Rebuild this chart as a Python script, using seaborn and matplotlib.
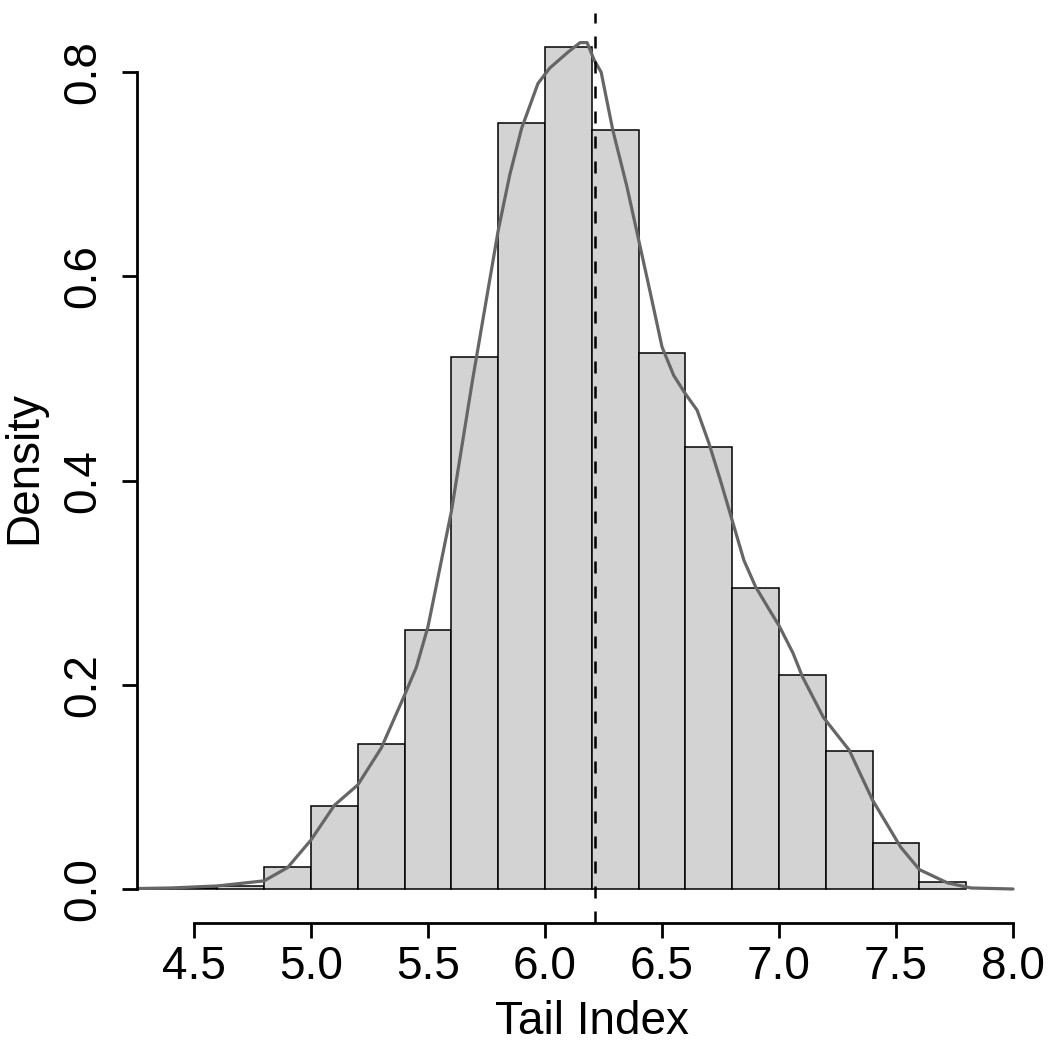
import numpy as np
import pandas as pd
import matplotlib
matplotlib.use('Agg')
import matplotlib.pyplot as plt
import seaborn as sns

sns.set_style('ticks')
plt.rcParams['font.family'] = ['Liberation Sans', 'DejaVu Sans']
plt.rcParams['text.color'] = 'black'
plt.rcParams['axes.labelcolor'] = 'black'
plt.rcParams['axes.edgecolor'] = 'black'
plt.rcParams['xtick.color'] = 'black'
plt.rcParams['ytick.color'] = 'black'

# histogram: bin edges and density heights (width 0.2)
bin_edges = [4.2, 4.4, 4.6, 4.8, 5.0, 5.2, 5.4, 5.6, 5.8, 6.0, 6.2,
             6.4, 6.6, 6.8, 7.0, 7.2, 7.4, 7.6, 7.8]
bin_density = [0.0005, 0.001, 0.003, 0.022, 0.081, 0.142, 0.254, 0.521, 0.750,
               0.825, 0.743, 0.525, 0.433, 0.295, 0.210, 0.135, 0.045, 0.007]

# kernel density curve
kde_x = [4.26, 4.4, 4.6, 4.8, 4.9, 5.0, 5.1, 5.15, 5.2, 5.3, 5.4, 5.45, 5.5, 5.6,
         5.69, 5.8, 5.85, 5.9, 5.97, 6.02, 6.06, 6.1, 6.15, 6.18, 6.21, 6.24,
         6.29, 6.35, 6.4, 6.45, 6.5, 6.55, 6.6, 6.65, 6.7, 6.75, 6.8, 6.85,
         6.9, 6.96, 7.0, 7.06, 7.1, 7.19, 7.3, 7.4, 7.52, 7.6, 7.72, 7.82, 8.0]
kde_y = [0.0005, 0.001, 0.003, 0.008, 0.021, 0.048, 0.082, 0.092, 0.102, 0.138,
         0.19, 0.217, 0.257, 0.37, 0.498, 0.645, 0.70, 0.745, 0.789, 0.804, 0.812,
         0.82, 0.829, 0.829, 0.812, 0.80, 0.743, 0.688, 0.636, 0.584, 0.531,
         0.503, 0.485, 0.469, 0.437, 0.40, 0.361, 0.322, 0.296, 0.273, 0.258,
         0.231, 0.208, 0.168, 0.136, 0.087, 0.041, 0.019, 0.006, 0.001, 0.0]

mean_index = 6.214

x_ticks = [4.5, 5.0, 5.5, 6.0, 6.5, 7.0, 7.5, 8.0]
y_ticks = [0.0, 0.2, 0.4, 0.6, 0.8]

centers = [(a + b) / 2 for a, b in zip(bin_edges[:-1], bin_edges[1:])]
hist_df = pd.DataFrame({'tail': centers, 'density': bin_density})
kde_df = pd.DataFrame({'tail': kde_x, 'density': kde_y})

fig = plt.figure(figsize=(10.5, 10.5), dpi=100)
ax = fig.add_axes([137 / 1050, 127 / 1050, 910 / 1050, 910 / 1050])

sns.histplot(data=hist_df, x='tail', weights='density', bins=bin_edges,
             stat='count', color='#D3D3D3', edgecolor='black', linewidth=1.1,
             alpha=1, ax=ax)
sns.lineplot(data=kde_df, x='tail', y='density', color='#666666',
             linewidth=2.3, ax=ax)
ax.axvline(mean_index, color='black', linewidth=1.8, linestyle=(0, (4.8, 5.2)))

ax.set_xlim(4.2564, 8.1453)
ax.set_ylim(-0.0333, 0.858)

ax.set_xticks(x_ticks)
ax.set_xticklabels([f'{v:.1f}' for v in x_ticks])
ax.set_yticks(y_ticks)
ax.set_yticklabels([f'{v:.1f}' for v in y_ticks], rotation=90, va='center')

sns.despine(ax=ax)
ax.spines['left'].set_bounds(0, 0.8)
ax.spines['bottom'].set_bounds(4.5, 8.0)
for s in ['left', 'bottom']:
    ax.spines[s].set_linewidth(2)
ax.tick_params(axis='both', length=11, width=2, labelsize=33, color='black',
               labelcolor='black')
ax.tick_params(axis='x', pad=5)
ax.tick_params(axis='y', pad=12)

ax.set_xlabel('Tail Index', fontsize=33, labelpad=8)
ax.set_ylabel('Density', fontsize=33, labelpad=11)

fig.savefig('out.png', dpi=100)
